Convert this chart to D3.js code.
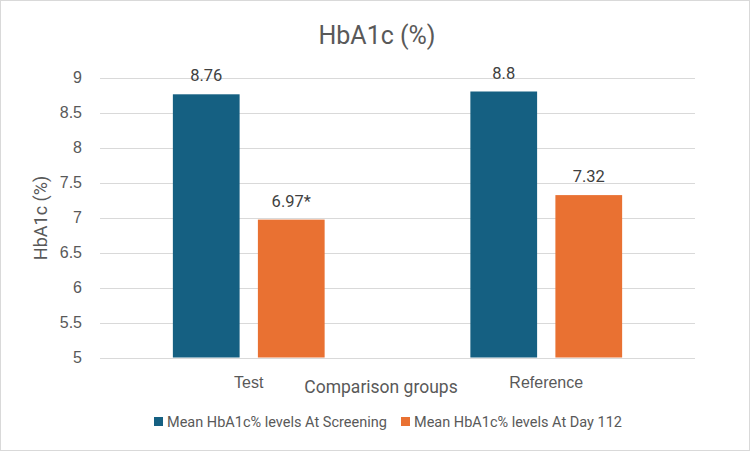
<!DOCTYPE html>
<html><head><meta charset="utf-8">
<script src="https://cdn.jsdelivr.net/npm/d3@7/dist/d3.min.js"></script>
<style>body{margin:0;background:#fff}svg{display:block;font-family:Roboto,"Liberation Sans",sans-serif}</style>
</head><body><svg id="c" width="750" height="451"></svg>
<script>
const categories = ["Test", "Reference"];
const seriesNames = ["Mean HbA1c% levels At Screening", "Mean HbA1c% levels At Day 112"];
const screening = [8.76, 8.8];
const day112 = [6.97, 7.32];
const labels = [["8.76", "8.8"], ["6.97*", "7.32"]];
const yTicks = [5, 5.5, 6, 6.5, 7, 7.5, 8, 8.5, 9];
const colors = ["#156082", "#E97132"];

const svg = d3.select("#c");
const W = 750, H = 451;
svg.append("rect").attr("x",0.5).attr("y",0.5).attr("width",W-1).attr("height",H-1)
  .attr("fill","#fff").attr("stroke","#d9d9d9");

const plot = {l:100, r:695, t:77.5, b:357.5};
const x0 = d3.scaleBand().domain(categories).range([plot.l, plot.r]).paddingInner(0).paddingOuter(0);
const x1 = d3.scaleBand().domain([0,1]).range([0, x0.bandwidth()]).paddingInner(0.215).paddingOuter(0.857);
const y = d3.scaleLinear().domain([5, 9]).range([plot.b, plot.t]);

// gridlines
svg.append("g").selectAll("line").data(yTicks).join("line")
  .attr("x1", plot.l).attr("x2", plot.r)
  .attr("y1", d => Math.round(y(d))+0.5).attr("y2", d => Math.round(y(d))+0.5)
  .attr("stroke", "#d9d9d9").attr("stroke-width", 1);

// y axis labels
const yAxis = d3.axisLeft(y).tickValues(yTicks).tickSize(0).tickPadding(0).tickFormat(d3.format("~g"));
const ya = svg.append("g").attr("transform", `translate(82,0)`).call(yAxis);
ya.select(".domain").remove();
ya.selectAll("text").attr("fill", "#595959").style("font-size", "16px");

// bars
const series = [screening, day112];
series.forEach((vals, si) => {
  const g = svg.append("g");
  g.selectAll("rect").data(vals).join("rect")
    .attr("x", (d,i) => x0(categories[i]) + x1(si))
    .attr("width", x1.bandwidth())
    .attr("y", d => y(d))
    .attr("height", d => y(5) - y(d))
    .attr("fill", colors[si]);
  g.selectAll("text").data(vals).join("text")
    .attr("x", (d,i) => x0(categories[i]) + x1(si) + x1.bandwidth()/2)
    .attr("y", d => y(d) - 13)
    .attr("text-anchor", "middle")
    .attr("fill", "#404040").style("font-size", "16.5px")
    .text((d,i) => labels[si][i]);
});

// x axis labels
const xAxis = d3.axisBottom(x0).tickSize(0).tickPadding(0);
const xa = svg.append("g").attr("transform", `translate(0,${plot.b})`).call(xAxis);
xa.select(".domain").remove();
xa.selectAll("text").attr("dy", null).attr("y", 30).attr("fill", "#595959").style("font-size", "16px");

// titles
svg.append("text").attr("x", 377).attr("y", 44).attr("text-anchor", "middle")
  .attr("fill", "#595959").style("font-size", "25px").text("HbA1c (%)");
svg.append("text").attr("x", 381).attr("y", 393).attr("text-anchor", "middle")
  .attr("fill", "#595959").style("font-size", "17.5px").text("Comparison groups");
svg.append("text").attr("transform", `translate(47,218) rotate(-90)`).attr("text-anchor", "middle")
  .attr("fill", "#595959").style("font-size", "18px").text("HbA1c (%)");

// legend
const legendItems = [{x:154, name: seriesNames[0], c: colors[0]}, {x:401, name: seriesNames[1], c: colors[1]}];
const lg = svg.append("g");
legendItems.forEach(it => {
  lg.append("rect").attr("x", it.x).attr("y", 417).attr("width", 9).attr("height", 9).attr("fill", it.c);
  lg.append("text").attr("x", it.x + 13).attr("y", 426.5).attr("fill", "#595959")
    .style("font-size", "14.5px").text(it.name);
});
</script></body></html>
